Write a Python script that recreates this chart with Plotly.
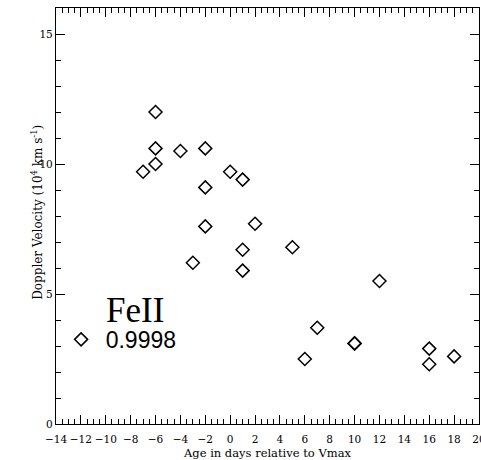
import plotly.graph_objects as go

age_days = [-7, -6, -6, -6, -4, -2, -2, -2, -3, 0, 1, 1, 1, 2, 5, 6, 7, 10, 10, 12, 16, 16, 18]
velocity = [9.7, 12.0, 10.6, 10.0, 10.5, 10.6, 9.1, 7.6, 6.2, 9.7, 9.4, 6.7, 5.9, 7.7, 6.8, 2.5, 3.7, 3.1, 3.1, 5.5, 2.9, 2.3, 2.6]
legend_title = "FeII"
legend_label = "0.9998"
x_title = "Age in days relative to Vmax"
y_title = "Doppler Velocity (10<sup>4</sup> km s<sup>-1</sup>)"

fig = go.Figure()
fig.add_trace(go.Scatter(
    x=age_days, y=velocity, mode="markers", name="\u2009" + legend_label,
    marker=dict(symbol="diamond-open", size=10, color="black", line=dict(width=1.5, color="black")),
))

tickfont = dict(family="DejaVu Serif", size=10.5, color="black")
axis_common = dict(
    showgrid=False, zeroline=False, showline=True, linecolor="black", linewidth=1.2,
    mirror="allticks", ticks="inside", tickcolor="black", tickwidth=1, ticklen=9,
    tickfont=tickfont, automargin=False, ticklabeloverflow="allow",
)
fig.update_layout(
    width=481, height=460,
    margin=dict(l=56, r=2, t=8, b=36),
    plot_bgcolor="white", paper_bgcolor="white",
    xaxis=dict(range=[-14, 20], dtick=2, tick0=-14, tickangle=0, ticklabelstandoff=5,
               minor=dict(dtick=0.5, ticks="inside", ticklen=5, tickcolor="black", showgrid=False),
               **axis_common),
    yaxis=dict(range=[0, 16], dtick=5, tickangle=0,
               minor=dict(dtick=1, ticks="inside", ticklen=5, tickcolor="black", showgrid=False),
               **axis_common),
    showlegend=True,
    legend=dict(x=0.012, y=0.255, xanchor="left", yanchor="top", bgcolor="rgba(0,0,0,0)",
                font=dict(family="Liberation Sans", size=23, color="black"),
                itemsizing="trace"),
    annotations=[
        dict(text=legend_title, xref="paper", yref="paper", x=0.114, y=0.272,
             xanchor="left", yanchor="middle", showarrow=False,
             font=dict(family="Liberation Serif", size=35, color="black")),
        dict(text=x_title, xref="paper", yref="paper", x=0.5, y=-0.0697,
             xanchor="center", yanchor="middle", showarrow=False,
             font=dict(family="DejaVu Serif", size=11.5, color="black")),
        dict(text=y_title, xref="paper", yref="paper", x=-0.045, y=0.51, textangle=-90,
             xanchor="center", yanchor="middle", showarrow=False,
             font=dict(family="DejaVu Serif", size=12, color="black")),
    ],
)
fig.write_html("out.html", config={"displayModeBar": False},
               post_script="document.body.style.margin='0';document.body.style.overflow='hidden';")
